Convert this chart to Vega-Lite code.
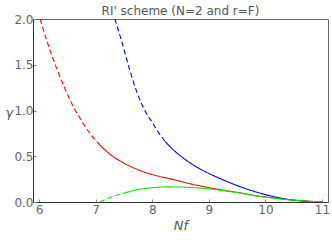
{
  "$schema": "https://vega.github.io/schema/vega-lite/v6.json",
  "width": 295,
  "height": 183,
  "autosize": "none",
  "padding": {"left": 33, "top": 19, "right": 4, "bottom": 38},
  "title": {"text": "RI' scheme (N=2 and r=F)", "font": "DejaVu Sans", "fontSize": 12, "fontWeight": "normal", "color": "#555555", "offset": -5, "anchor": "middle"},
  "config": {
    "view": {"stroke": "#666666", "strokeWidth": 1},
    "axis": {"grid": false, "labelFont": "DejaVu Sans", "labelFontSize": 12, "labelColor": "#666666", "titleFont": "DejaVu Sans", "domainColor": "#333333", "tickColor": "#888888", "tickSize": -3}
  },
  "data": {"values": [
    {"g": "red-d", "c": "red", "s": "dashed", "x": 6.02, "y": 2.0},
    {"g": "red-d", "c": "red", "s": "dashed", "x": 6.15, "y": 1.74},
    {"g": "red-d", "c": "red", "s": "dashed", "x": 6.3, "y": 1.48},
    {"g": "red-d", "c": "red", "s": "dashed", "x": 6.45, "y": 1.25},
    {"g": "red-d", "c": "red", "s": "dashed", "x": 6.6, "y": 1.05},
    {"g": "red-d", "c": "red", "s": "dashed", "x": 6.75, "y": 0.89},
    {"g": "red-d", "c": "red", "s": "dashed", "x": 6.9, "y": 0.75},
    {"g": "red-d", "c": "red", "s": "dashed", "x": 7.08, "y": 0.62},
    {"g": "red-s", "c": "red", "s": "solid", "x": 7.08, "y": 0.62},
    {"g": "red-s", "c": "red", "s": "solid", "x": 7.3, "y": 0.5},
    {"g": "red-s", "c": "red", "s": "solid", "x": 7.5, "y": 0.425},
    {"g": "red-s", "c": "red", "s": "solid", "x": 7.78, "y": 0.345},
    {"g": "red-s", "c": "red", "s": "solid", "x": 8.0, "y": 0.3},
    {"g": "red-s", "c": "red", "s": "solid", "x": 8.37, "y": 0.245},
    {"g": "red-s", "c": "red", "s": "solid", "x": 8.7, "y": 0.195},
    {"g": "red-s", "c": "red", "s": "solid", "x": 8.96, "y": 0.162},
    {"g": "red-s", "c": "red", "s": "solid", "x": 9.26, "y": 0.128},
    {"g": "red-s", "c": "red", "s": "solid", "x": 9.55, "y": 0.1},
    {"g": "red-s", "c": "red", "s": "solid", "x": 9.85, "y": 0.067},
    {"g": "red-s", "c": "red", "s": "solid", "x": 10.14, "y": 0.045},
    {"g": "red-s", "c": "red", "s": "solid", "x": 10.43, "y": 0.025},
    {"g": "red-s", "c": "red", "s": "solid", "x": 10.75, "y": 0.01},
    {"g": "red-s", "c": "red", "s": "solid", "x": 11.0, "y": 0.0},
    {"g": "blue-d", "c": "blue", "s": "dashed", "x": 7.34, "y": 2.0},
    {"g": "blue-d", "c": "blue", "s": "dashed", "x": 7.45, "y": 1.78},
    {"g": "blue-d", "c": "blue", "s": "dashed", "x": 7.6, "y": 1.45},
    {"g": "blue-d", "c": "blue", "s": "dashed", "x": 7.73, "y": 1.2},
    {"g": "blue-d", "c": "blue", "s": "dashed", "x": 7.87, "y": 1.0},
    {"g": "blue-d", "c": "blue", "s": "dashed", "x": 8.0, "y": 0.87},
    {"g": "blue-d", "c": "blue", "s": "dashed", "x": 8.1, "y": 0.77},
    {"g": "blue-d", "c": "blue", "s": "dashed", "x": 8.23, "y": 0.66},
    {"g": "blue-s", "c": "blue", "s": "solid", "x": 8.23, "y": 0.66},
    {"g": "blue-s", "c": "blue", "s": "solid", "x": 8.4, "y": 0.555},
    {"g": "blue-s", "c": "blue", "s": "solid", "x": 8.55, "y": 0.48},
    {"g": "blue-s", "c": "blue", "s": "solid", "x": 8.7, "y": 0.415},
    {"g": "blue-s", "c": "blue", "s": "solid", "x": 8.85, "y": 0.36},
    {"g": "blue-s", "c": "blue", "s": "solid", "x": 9.0, "y": 0.312},
    {"g": "blue-s", "c": "blue", "s": "solid", "x": 9.2, "y": 0.256},
    {"g": "blue-s", "c": "blue", "s": "solid", "x": 9.4, "y": 0.204},
    {"g": "blue-s", "c": "blue", "s": "solid", "x": 9.6, "y": 0.157},
    {"g": "blue-s", "c": "blue", "s": "solid", "x": 9.8, "y": 0.116},
    {"g": "blue-s", "c": "blue", "s": "solid", "x": 10.0, "y": 0.081},
    {"g": "blue-s", "c": "blue", "s": "solid", "x": 10.2, "y": 0.052},
    {"g": "blue-s", "c": "blue", "s": "solid", "x": 10.4, "y": 0.029},
    {"g": "blue-s", "c": "blue", "s": "solid", "x": 10.6, "y": 0.013},
    {"g": "blue-s", "c": "blue", "s": "solid", "x": 10.8, "y": 0.004},
    {"g": "blue-s", "c": "blue", "s": "solid", "x": 11.0, "y": 0.0},
    {"g": "green-d", "c": "green", "s": "dashed", "x": 7.08, "y": 0.0},
    {"g": "green-d", "c": "green", "s": "dashed", "x": 7.2, "y": 0.035},
    {"g": "green-d", "c": "green", "s": "dashed", "x": 7.35, "y": 0.07},
    {"g": "green-d", "c": "green", "s": "dashed", "x": 7.55, "y": 0.105},
    {"g": "green-s", "c": "green", "s": "solid", "x": 7.55, "y": 0.105},
    {"g": "green-s", "c": "green", "s": "solid", "x": 7.78, "y": 0.14},
    {"g": "green-s", "c": "green", "s": "solid", "x": 8.0, "y": 0.156},
    {"g": "green-s", "c": "green", "s": "solid", "x": 8.26, "y": 0.165},
    {"g": "green-s", "c": "green", "s": "solid", "x": 8.5, "y": 0.164},
    {"g": "green-s", "c": "green", "s": "solid", "x": 8.7, "y": 0.158},
    {"g": "green-s", "c": "green", "s": "solid", "x": 8.96, "y": 0.146},
    {"g": "green-s", "c": "green", "s": "solid", "x": 9.26, "y": 0.124},
    {"g": "green-s", "c": "green", "s": "solid", "x": 9.55, "y": 0.098},
    {"g": "green-s", "c": "green", "s": "solid", "x": 9.85, "y": 0.065},
    {"g": "green-s", "c": "green", "s": "solid", "x": 10.14, "y": 0.043},
    {"g": "green-s", "c": "green", "s": "solid", "x": 10.43, "y": 0.024},
    {"g": "green-s", "c": "green", "s": "solid", "x": 10.75, "y": 0.009},
    {"g": "green-s", "c": "green", "s": "solid", "x": 11.0, "y": 0.0}
  ]},
  "mark": {"type": "line", "strokeWidth": 1.1, "interpolate": "monotone", "clip": true},
  "encoding": {
    "x": {"field": "x", "type": "quantitative", "scale": {"domain": [5.894, 11.106], "nice": false, "zero": false},
      "axis": {"values": [6, 7, 8, 9, 10, 11], "format": "d", "title": "Nf", "titleFontStyle": "italic", "titleFontWeight": "normal", "titleFontSize": 13, "titleColor": "#555555", "labelPadding": 5, "titlePadding": 4, "labelFlush": false}},
    "y": {"field": "y", "type": "quantitative", "scale": {"domain": [0, 2], "nice": false},
      "axis": {"values": [0, 0.5, 1, 1.5, 2], "format": ".1f", "title": "γ", "titleAngle": 0, "titleFontStyle": "italic", "titleFontWeight": "normal", "titleFontSize": 13, "titleColor": "#555555", "titleX": -28, "titleY": 93, "titleAlign": "left", "titleBaseline": "middle", "labelPadding": 3, "labelFlush": false}},
    "color": {"field": "c", "type": "nominal", "scale": {"domain": ["red", "blue", "green"], "range": ["#ff0000", "#0000ff", "#00ee00"]}, "legend": null},
    "strokeDash": {"field": "s", "type": "nominal", "scale": {"domain": ["dashed", "solid"], "range": [[5, 3], [1, 0]]}, "legend": null},
    "detail": {"field": "g", "type": "nominal"}
  }
}
